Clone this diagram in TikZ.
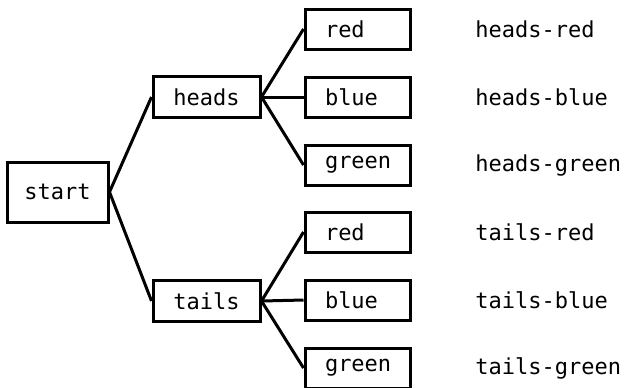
\documentclass[tikz,border=0pt]{standalone}
\usepackage{fontspec}
\setmonofont{DejaVu Sans Mono}
\begin{document}
\begin{tikzpicture}[x=0.5pt,y=-0.5pt,
  box/.style={draw,line width=1.5pt,inner sep=0pt,font=\ttfamily\fontsize{11}{13}\selectfont},
  leaf/.style={box,minimum height=20pt,inner xsep=10pt,text width=32.5pt,align=left},
  mid/.style={box,minimum width=53.5pt,minimum height=20.5pt},
  lbl/.style={anchor=west,inner sep=0pt,font=\ttfamily\fontsize{11}{13}\selectfont},
  conn/.style={line width=1.5pt}]
\useasboundingbox (0,0) rectangle (624,387);
\node[box,minimum width=50.5pt,minimum height=30pt] (start) at (57.5,192) {start};
\node[mid] (heads) at (206.5,97) {heads};
\node[mid] (tails) at (206.5,301) {tails};
\node[leaf] (hr) at (357.5,29) {red};
\node[leaf] (hb) at (357.5,97) {blue};
\node[leaf] (hg) at (357.5,165) {green};
\node[leaf] (tr) at (357.5,232) {red};
\node[leaf] (tb) at (357.5,300) {blue};
\node[leaf] (tg) at (357.5,368) {green};
\node[lbl] (lhr) at (475,29) {heads-red};
\node[lbl] (lhb) at (475,97) {heads-blue};
\node[lbl] (lhg) at (475,165) {heads-green};
\node[lbl] (ltr) at (475,232) {tails-red};
\node[lbl] (ltb) at (475,300) {tails-blue};
\node[lbl] (ltg) at (475,368) {tails-green};
\draw[conn] (heads.west) -- (start.east) -- (tails.west);
\draw[conn] (hr.west) -- (heads.east) -- (hg.west);
\draw[conn] (heads.east) -- (hb.west);
\draw[conn] (tr.west) -- (tails.east) -- (tg.west);
\draw[conn] (tails.east) -- (tb.west);
\end{tikzpicture}
\end{document}
